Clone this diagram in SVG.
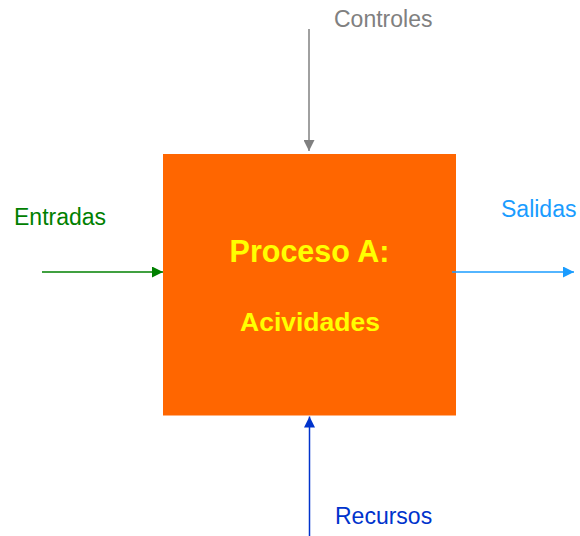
<svg xmlns="http://www.w3.org/2000/svg" width="580" height="536" viewBox="0 0 580 536">
<style>
.lbl{font-family:"Liberation Sans",Arial,sans-serif;font-size:23px}
.ttl{font-family:"Liberation Sans",Arial,sans-serif;font-weight:bold;fill:#ffff00;text-anchor:middle}
.ln{stroke-width:1.5;fill:none}
</style>
<defs>
<marker id="ag" viewBox="0 0 11 11" refX="11" refY="5.5" markerWidth="11" markerHeight="11" markerUnits="userSpaceOnUse" orient="auto"><path d="M0,0 L11,5.5 L0,11 Z" fill="#008000"/></marker>
<marker id="ab" viewBox="0 0 11 11" refX="11" refY="5.5" markerWidth="11" markerHeight="11" markerUnits="userSpaceOnUse" orient="auto"><path d="M0,0 L11,5.5 L0,11 Z" fill="#1a9cff"/></marker>
<marker id="agr" viewBox="0 0 11 11" refX="11" refY="5.5" markerWidth="11" markerHeight="11" markerUnits="userSpaceOnUse" orient="auto"><path d="M0,0 L11,5.5 L0,11 Z" fill="#808080"/></marker>
<marker id="ad" viewBox="0 0 11 11" refX="11" refY="5.5" markerWidth="11" markerHeight="11" markerUnits="userSpaceOnUse" orient="auto"><path d="M0,0 L11,5.5 L0,11 Z" fill="#0033cc"/></marker>
</defs>
<g id="proceso">
<rect x="163" y="154" width="293" height="261.5" fill="#ff6600"/>
<text class="ttl" x="309.5" y="262" font-size="30.5">Proceso A:</text>
<text class="ttl" x="310" y="331" font-size="26.5">Acividades</text>
</g>
<g id="controles"><text class="lbl" x="334" y="27" fill="#808080">Controles</text></g>
<g id="entradas"><text class="lbl" x="14" y="225" fill="#008000">Entradas</text></g>
<g id="salidas"><text class="lbl" x="501" y="217" fill="#1a9cff">Salidas</text></g>
<g id="recursos"><text class="lbl" x="335" y="524" fill="#0033cc">Recursos</text></g>
<g id="connectors">
<line class="ln" x1="309" y1="29" x2="309" y2="151" stroke="#808080" marker-end="url(#agr)"/>
<line class="ln" x1="42" y1="272" x2="163" y2="272" stroke="#008000" marker-end="url(#ag)"/>
<line class="ln" x1="452" y1="272" x2="574" y2="272" stroke="#1a9cff" marker-end="url(#ab)"/>
<line class="ln" x1="309.5" y1="536" x2="309.5" y2="416.5" stroke="#0033cc" marker-end="url(#ad)"/>
</g>
</svg>
